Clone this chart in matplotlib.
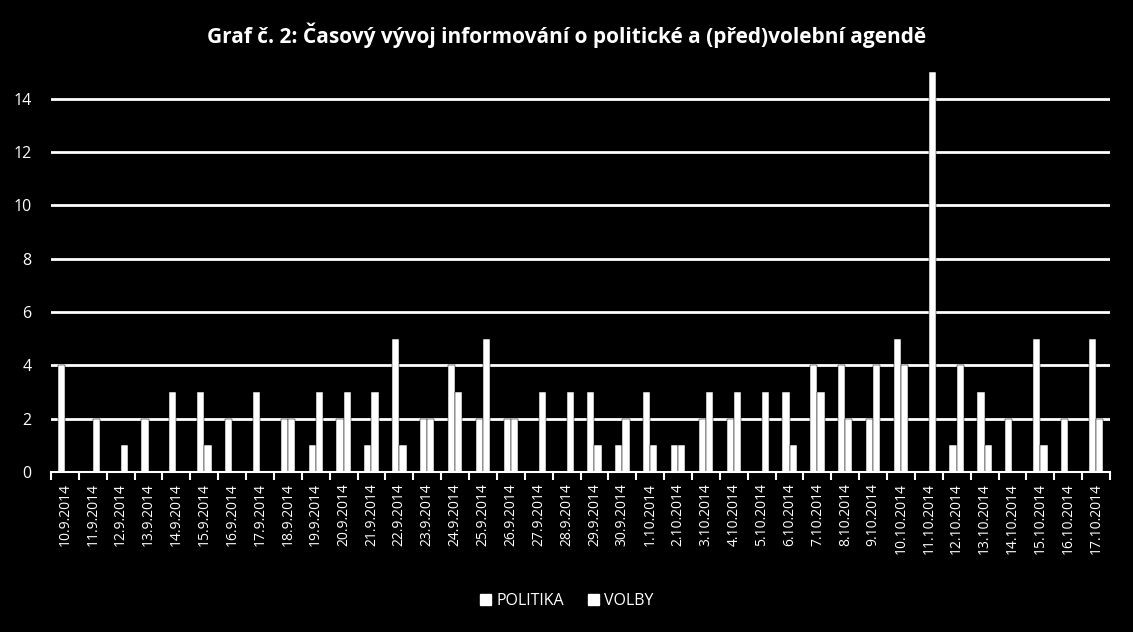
import matplotlib
matplotlib.use("Agg")
import matplotlib.pyplot as plt
import numpy as np
from matplotlib.patches import Patch

plt.rcParams['font.family'] = ['Open Sans', 'DejaVu Sans']

# ========== Data ==========
dates = ["10.9.2014", "11.9.2014", "12.9.2014", "13.9.2014", "14.9.2014",
         "15.9.2014", "16.9.2014", "17.9.2014", "18.9.2014", "19.9.2014",
         "20.9.2014", "21.9.2014", "22.9.2014", "23.9.2014", "24.9.2014",
         "25.9.2014", "26.9.2014", "27.9.2014", "28.9.2014", "29.9.2014",
         "30.9.2014", "1.10.2014", "2.10.2014", "3.10.2014", "4.10.2014",
         "5.10.2014", "6.10.2014", "7.10.2014", "8.10.2014", "9.10.2014",
         "10.10.2014", "11.10.2014", "12.10.2014", "13.10.2014", "14.10.2014",
         "15.10.2014", "16.10.2014", "17.10.2014"]
politika = [4, 0, 0, 2, 3, 3, 2, 3, 2, 1, 2, 1, 5, 2, 4, 2, 2, 0, 0, 3,
            1, 3, 1, 2, 2, 0, 3, 4, 4, 2, 5, 0, 1, 3, 2, 5, 2, 5]
volby = [0, 2, 1, 0, 0, 1, 0, 0, 2, 3, 3, 3, 1, 2, 3, 5, 2, 3, 3, 1,
         2, 1, 1, 3, 3, 3, 1, 3, 2, 4, 4, 15, 4, 1, 0, 1, 0, 2]
yticks = [0, 2, 4, 6, 8, 10, 12, 14]

# ========== Plot ==========
fig = plt.figure(figsize=(11.33, 6.32), dpi=100, facecolor='black')
ax = fig.add_axes([51/1133, (632-472)/632, (1110-51)/1133, 400/632])
ax.set_facecolor('black')

x = np.arange(len(dates))
w = 0.26
ax.bar(x - w/2, politika, width=w, color='white', edgecolor='black',
       linewidth=0.35, zorder=2, label='POLITIKA')
ax.bar(x + w/2, volby, width=w, color='white', edgecolor='black',
       linewidth=0.35, zorder=2, label='VOLBY')

ax.set_xlim(-0.5, len(dates) - 0.5)
ax.set_ylim(0, 15)
ax.set_yticks(yticks)
ax.set_yticklabels([str(v) for v in yticks], color='white', fontsize=11.5)
ax.tick_params(axis='y', length=0, pad=14)
for v in yticks[1:]:
    ax.axhline(v, color='white', linewidth=2, zorder=1)

ax.set_xticks(x)
ax.set_xticklabels(dates, rotation=90, color='white', fontsize=10)
ax.set_xticks(np.arange(len(dates) + 1) - 0.5, minor=True)
ax.tick_params(axis='x', which='major', length=0, pad=8)
ax.tick_params(axis='x', which='minor', length=6, width=1.5, color='white')

for side in ['top', 'right', 'left']:
    ax.spines[side].set_visible(False)
ax.spines['bottom'].set_color('white')
ax.spines['bottom'].set_linewidth(1.5)
ax.spines['bottom'].set_zorder(4)

fig.text(0.5, 1 - 35/632, "Graf č. 2: Časový vývoj informování o politické a (před)volební agendě",
         color='white', fontsize=15, fontweight='bold', ha='center', va='center')

handles = [Patch(facecolor='white', edgecolor='white', label='POLITIKA'),
           Patch(facecolor='white', edgecolor='white', label='VOLBY')]
fig.legend(handles=handles, loc='center', bbox_to_anchor=(0.5, 1 - 601/632), ncol=2,
           frameon=False, labelcolor='white', fontsize=11.5, handlelength=0.7,
           handleheight=0.7, handletextpad=0.3, columnspacing=1.5)

fig.savefig("out.png", dpi=100, facecolor='black')
